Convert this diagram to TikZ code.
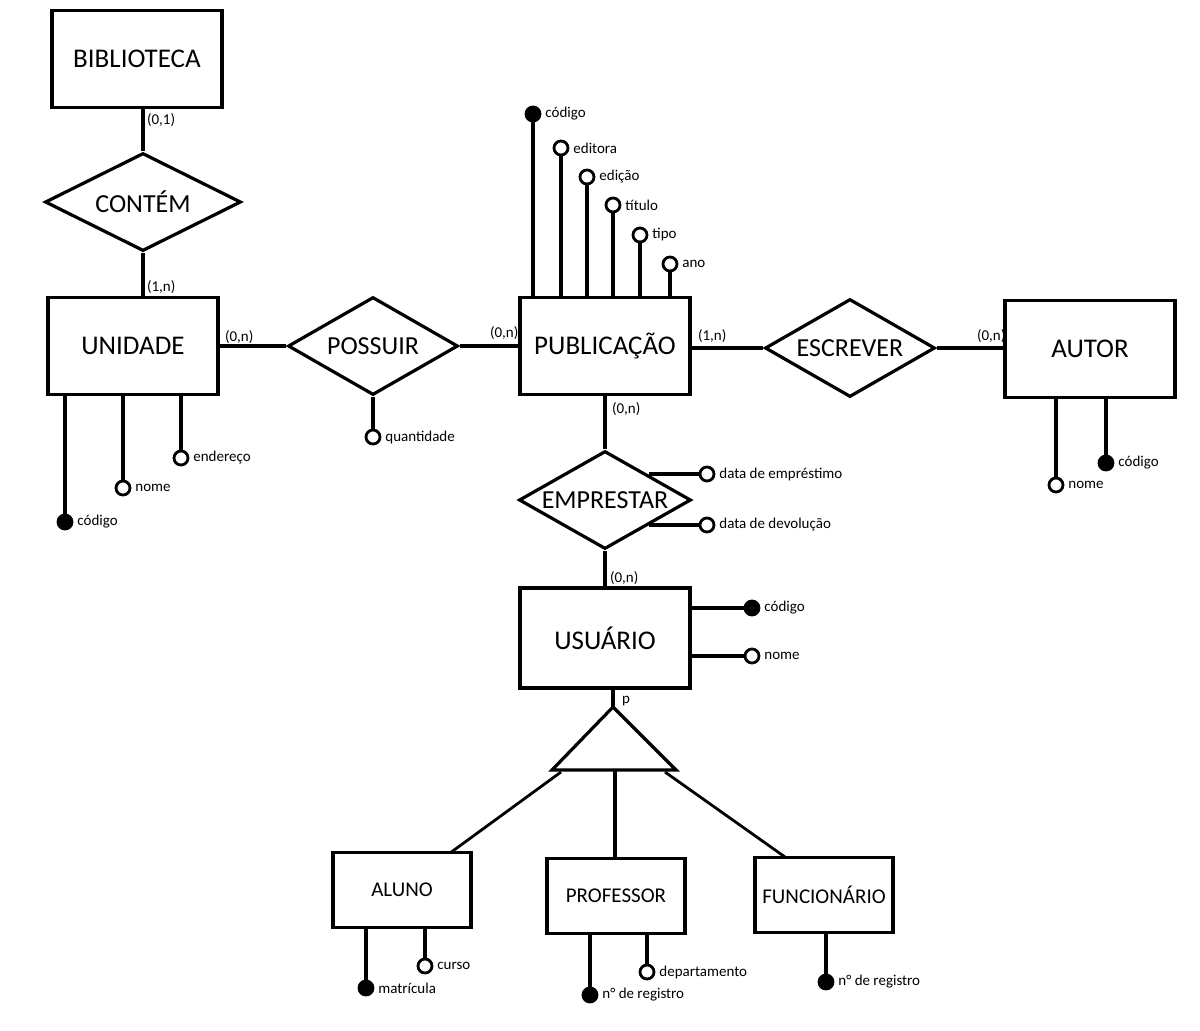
\documentclass[tikz,border=0pt]{standalone}
\usepackage{fontspec}
\setmainfont{Carlito}
\usetikzlibrary{shapes.geometric}

\begin{document}
\begin{tikzpicture}[x=.5pt,y=-.5pt,line width=1.6pt,
  entity/.style={draw,rectangle,minimum width=85pt,minimum height=48.5pt,inner sep=0pt,font=\fontsize{13.5}{15}\selectfont},
  subentity/.style={draw,rectangle,minimum width=69pt,minimum height=37.5pt,inner sep=0pt,font=\fontsize{10.5}{12}\selectfont},
  relation/.style={draw,diamond,aspect=2,minimum width=85pt,minimum height=49pt,inner sep=0pt,font=\fontsize{13}{15}\selectfont},
  lbl/.style={font=\fontsize{7.5}{9}\selectfont,inner sep=1.2pt},
  card/.style={lbl,anchor=west},
  attr/.style={draw,circle,line width=1.4pt,minimum size=7pt,inner sep=0pt,fill=white,label={[lbl]right:#1}},
  keyattr/.style={attr=#1,fill=black}]
  \useasboundingbox (0,0) rectangle (1200,1030);

  \node [entity] (bib) at (137,59) {BIBLIOTECA};
  \node [relation,minimum width=98pt] (contem) at (143,202) {CONTÉM};
  \node [entity] (uni) at (133,346) {UNIDADE};
  \node [relation] (possuir) at (373,346) {POSSUIR};
  \node [entity] (pub) at (605,346) {PUBLICAÇÃO};
  \node [relation] (escrever) at (850,348) {ESCREVER};
  \node [entity] (aut) at (1090,349) {AUTOR};
  \node [relation,minimum width=86pt] (emprestar) at (605,500) {EMPRESTAR};
  \node [entity,minimum height=50pt] (usu) at (605,638) {USUÁRIO};

  \node [subentity] (alu) at (402,890) {ALUNO};
  \node [subentity] (pro) at (616,896) {PROFESSOR};
  \node [subentity] (fun) at (824,895) {FUNCIONÁRIO};

  % relationships
  \draw (contem.north |- bib.south) -- (contem.north) node[card, pos=.25] {(0,1)};
  \draw (contem.south) -- (contem.south |- uni.north) node[card, pos=.8] {(1,n)};
  \draw (uni.east) -- (possuir.west);
  \node [card] (c1) at (221,337) {(0,n)};
  \draw (possuir.east) -- (pub.west);
  \node [card] (c2) at (486,333) {(0,n)};
  \draw (escrever.west -| pub.east) -- (escrever.west);
  \node [card] (c3) at (694,336) {(1,n)};
  \draw (escrever.east) -- (escrever.east -| aut.west);
  \node [card] (c4) at (973,336) {(0,n)};
  \draw (pub.south) -- (emprestar.north);
  \node [card] (c5) at (608,409) {(0,n)};
  \draw (emprestar.south) -- (usu.north);
  \node [card] (c6) at (606,578) {(0,n)};

  % generalization
  \coordinate (p) at (613,707);
  \coordinate (pl) at (552,770);
  \coordinate (pr) at (676,770);
  \draw (usu.south -| p) -- (p);
  \node [card] (cp) at (618,701) {p};
  \draw (p) -- (pl) -- (pr) -- cycle;
  \coordinate (ga) at (561,772);
  \coordinate (gp) at (615,770);
  \coordinate (gf) at (665,772);
  \coordinate (ta) at (450,853);
  \coordinate (tf) at (785,857);
  \draw[line width=1.4pt] (ga) -- (ta);
  \draw (gp) -- (gp |- pro.north);
  \draw[line width=1.4pt] (gf) -- (tf);

  % attributes of UNIDADE
  \node [keyattr=código] (u1) at (65,522) {};
  \node [attr=nome] (u2) at (123,488) {};
  \node [attr=endereço] (u3) at (181,458) {};
  \foreach \a in {u1,u2,u3}
    \draw (\a |- uni.south) -- (\a);

  % attribute of POSSUIR
  \node [attr=quantidade] (q1) at (373,437) {};
  \draw (possuir.south) -- (q1);

  % attributes of PUBLICACAO
  \node [keyattr=código] (p1) at (533,114) {};
  \node [attr=editora] (p2) at (561,148) {};
  \node [attr=edição] (p3) at (587,177) {};
  \node [attr=título] (p4) at (613,205) {};
  \node [attr=tipo] (p5) at (640,235) {};
  \node [attr=ano] (p6) at (670,264) {};
  \foreach \a in {p1,p2,p3,p4,p5,p6}
    \draw (\a |- pub.north) -- (\a);

  % attributes of AUTOR
  \node [attr=nome] (a1) at (1056,485) {};
  \node [keyattr=código] (a2) at (1106,463) {};
  \foreach \a in {a1,a2}
    \draw (\a |- aut.south) -- (\a);

  % attributes of EMPRESTAR
  \node [attr=data de empréstimo] (e1) at (707,474) {};
  \node [attr=data de devolução] (e2) at (707,525) {};
  \draw (e1 -| emprestar.north east) -- (e1);
  \draw (e2 -| emprestar.south east) -- (e2);

  % attributes of USUARIO
  \node [keyattr=código] (s1) at (752,608) {};
  \node [attr=nome] (s2) at (752,656) {};
  \foreach \a in {s1,s2}
    \draw (usu.east |- \a) -- (\a);

  % attributes of the subentities
  \node [keyattr=matrícula] (l1) at (366,988) {};
  \node [attr=curso] (l2) at (425,966) {};
  \foreach \a in {l1,l2}
    \draw (\a |- alu.south) -- (\a);
  \node [keyattr=n° de registro] (r1) at (590,995) {};
  \node [attr=departamento] (r2) at (647,972) {};
  \foreach \a in {r1,r2}
    \draw (\a |- pro.south) -- (\a);
  \node [keyattr=n° de registro] (f1) at (826,982) {};
  \draw (f1 |- fun.south) -- (f1);

\end{tikzpicture}
\end{document}
